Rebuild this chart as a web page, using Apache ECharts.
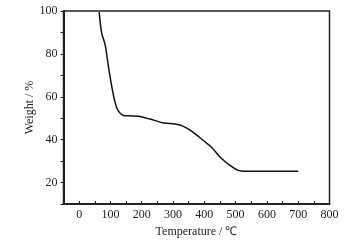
<!DOCTYPE html>
<html><head><meta charset="utf-8">
<script src="https://cdn.jsdelivr.net/npm/echarts@6/dist/echarts.min.js"></script>
<style>html,body{margin:0;padding:0;background:#fff}#c{width:361px;height:243px}</style>
</head><body><div id="c"></div>
<script>
const temperature = [64, 72, 83, 93.5, 104, 115, 125, 141, 160, 189, 226, 269, 306, 322, 344, 365, 397, 423, 450, 482, 508, 530, 560, 620, 700];
const weight = [99.5, 89.7, 84.3, 74.2, 65, 57.3, 53.4, 51.3, 51.1, 50.9, 49.6, 47.8, 47.3, 46.8, 45.4, 43.4, 39.6, 36.5, 31.9, 28, 25.7, 25.3, 25.3, 25.3, 25.3];
const xTickLabels = ['0','100','200','300','400','500','600','700','800'];
const yTickLabels = ['20','40','60','80','100'];

const chart = echarts.init(document.getElementById('c'), null, {renderer:'canvas'});
const font = 'Liberation Serif';
chart.setOption({
  animation:false,
  grid:{left:63.5, right:31.5, top:11, bottom:37, show:true, borderColor:'#222', borderWidth:1.5},
  xAxis:{
    type:'value', min:-50, max:800, interval:50,
    name:'Temperature / ℃', nameLocation:'middle', nameGap:22, nameMoveOverlap:false,
    nameTextStyle:{fontFamily:font, fontSize:12, color:'#222'},
    axisLine:{onZero:false, lineStyle:{color:'#222', width:2}},
    axisTick:{inside:true, length:3, lineStyle:{color:'#222', width:1}},
    axisLabel:{fontFamily:font, fontSize:12, color:'#222', margin:5,
      formatter:v=> xTickLabels.includes(String(v)) ? String(v) : ''},
    splitLine:{show:false}
  },
  yAxis:{
    type:'value', min:10, max:100, interval:10,
    name:'Weight / %', nameLocation:'middle', nameGap:28, nameMoveOverlap:false,
    nameTextStyle:{fontFamily:font, fontSize:12, color:'#222'},
    axisLine:{onZero:false, lineStyle:{color:'#222', width:2}},
    axisTick:{inside:false, length:3, lineStyle:{color:'#222', width:1}},
    axisLabel:{fontFamily:font, fontSize:12, color:'#222', margin:6,
      formatter:v=> yTickLabels.includes(String(v)) ? String(v) : ''},
    splitLine:{show:false}
  },
  series:[{
    type:'line', data:temperature.map((t,i)=>[t, weight[i]]),
    smooth:0.3, showSymbol:false, lineStyle:{color:'#111', width:1.5}
  }]
});
</script></body></html>
